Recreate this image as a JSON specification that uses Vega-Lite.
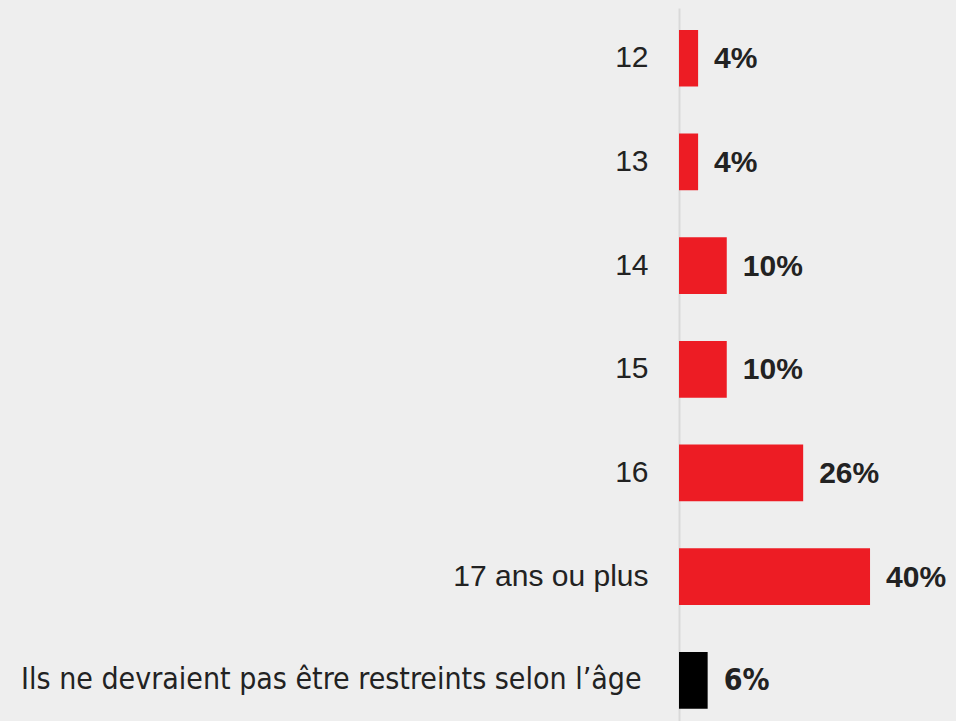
{
  "$schema": "https://vega.github.io/schema/vega-lite/v6.json",
  "width": 277,
  "height": 713,
  "autosize": {"type": "none"},
  "padding": {"left": 679, "top": 8, "right": 0, "bottom": 0},
  "background": "#eeeeee",
  "config": {"view": {"stroke": null}},
  "data": {
    "values": [
      {"cat": "12", "pct": 4, "grp": "age"},
      {"cat": "13", "pct": 4, "grp": "age"},
      {"cat": "14", "pct": 10, "grp": "age"},
      {"cat": "15", "pct": 10, "grp": "age"},
      {"cat": "16", "pct": 26, "grp": "age"},
      {"cat": "17 ans ou plus", "pct": 40, "grp": "age"},
      {"cat": "Ils ne devraient pas être restreints selon l’âge", "pct": 6, "grp": "none"}
    ]
  },
  "encoding": {
    "y": {
      "field": "cat",
      "type": "nominal",
      "sort": null,
      "scale": {"paddingInner": 0.453, "paddingOuter": 0.165, "align": 0.64},
      "axis": {
        "title": null,
        "ticks": false,
        "domainColor": "#d9d9d9",
        "domainWidth": 2,
        "labelPadding": {
          "condition": {"test": "datum.value == 'Ils ne devraient pas être restreints selon l’âge'", "value": 38},
          "value": 31
        },
        "labelFontSize": 30,
        "labelColor": "#222222",
        "labelLimit": 800,
        "labelFont": {
          "condition": {"test": "datum.value == 'Ils ne devraient pas être restreints selon l’âge'", "value": "Liberation Sans Narrow, DejaVu Sans Condensed, sans-serif"},
          "value": "Liberation Sans, Arial, sans-serif"
        }
      }
    },
    "x": {
      "field": "pct",
      "type": "quantitative",
      "scale": {"domain": [0, 58]},
      "axis": null
    }
  },
  "layer": [
    {
      "mark": {"type": "bar"},
      "encoding": {
        "color": {
          "field": "grp",
          "type": "nominal",
          "scale": {"domain": ["age", "none"], "range": ["#ed1c24", "#000000"]},
          "legend": null
        }
      }
    },
    {
      "mark": {
        "type": "text",
        "align": "left",
        "baseline": "middle",
        "dx": 16,
        "dy": 1,
        "fontSize": 30,
        "fontWeight": "bold",
        "color": "#222222",
        "text": {"expr": "datum.pct + '%'"},
        "font": {"expr": "datum.grp == 'none' ? 'Liberation Sans Narrow, DejaVu Sans Condensed, sans-serif' : 'Liberation Sans, Arial, sans-serif'"}
      },
      "encoding": {
        "x": {"field": "pct", "type": "quantitative"}
      }
    }
  ]
}
